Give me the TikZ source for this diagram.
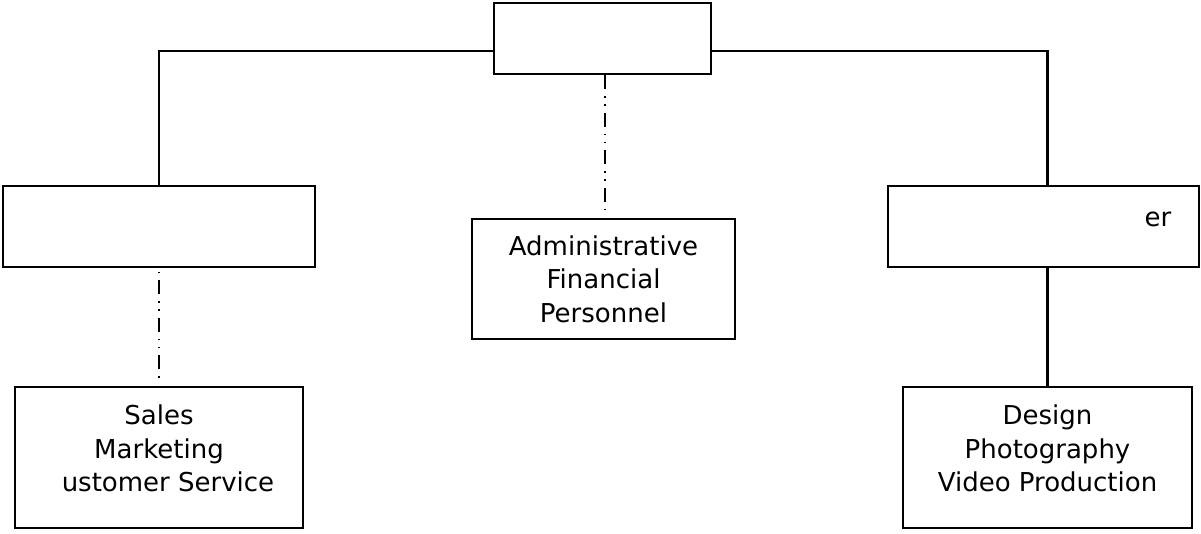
\documentclass[tikz,border=0pt]{standalone}
\usepackage{fontspec}
\setmainfont{DejaVu Sans}
\usetikzlibrary{calc, positioning}

\begin{document}
\begin{tikzpicture}[x = 1pt, y = -1pt,
        box/.style = {draw, line width = 2.4pt, inner sep = 0pt},
        txt/.style = {align = center, inner sep = 0pt, font = \fontsize{26}{33.5}\selectfont},
        link/.style = {line width = 2.4pt},
        dashdot/.style = {line width = 2pt, dash pattern = on 14pt off 7pt on 1.5pt off 6.5pt on 1.5pt off 7pt}]
            \useasboundingbox (0,0) rectangle (1201,533);
            \node[box, minimum width = 217pt, minimum height = 71pt] (head) at (602.5,38.5) {};
            \node[box, minimum width = 312pt, minimum height = 81pt] (sales) at (159,226.5) {};
            \node[box, minimum width = 311pt, minimum height = 81pt] (prod) at (1043.5,226.5) {};
            \node[box, txt, minimum width = 263pt, minimum height = 120pt] (admin) at (603.5,279) {Administrative\\Financial\\Personnel};
            \node[box, minimum width = 288pt, minimum height = 141pt] (salesdep) at (159,457.5) {};
            \node[box, minimum width = 289pt, minimum height = 141pt] (proddep) at (1047.5,457.5) {};
            \node[txt] (er) at (1158,219) {er};
            \node[txt] (salestxt) at (159,448.5) {Sales\\Marketing\\\hspace*{18pt}ustomer Service};
            \node[txt] (prodtxt) at (1047.5,448.5) {Design\\Photography\\Video Production};
            \draw[link] ([yshift = -12.5pt]head.west) -| (sales.north);
            \draw[link] ([yshift = -12.5pt]head.east) -| (proddep.north |- prod.north);
            \draw[link] (proddep.north |- prod.south) -- (proddep.north);
            \draw[dashdot, shorten > = 9pt] ([xshift = 2pt]head.south) -- ([xshift = 1pt]admin.north);
            \draw[dashdot, dash phase = 25.5pt, shorten > = 8pt] (sales.south) -- (salesdep.north);
        \end{tikzpicture}
\end{document}
